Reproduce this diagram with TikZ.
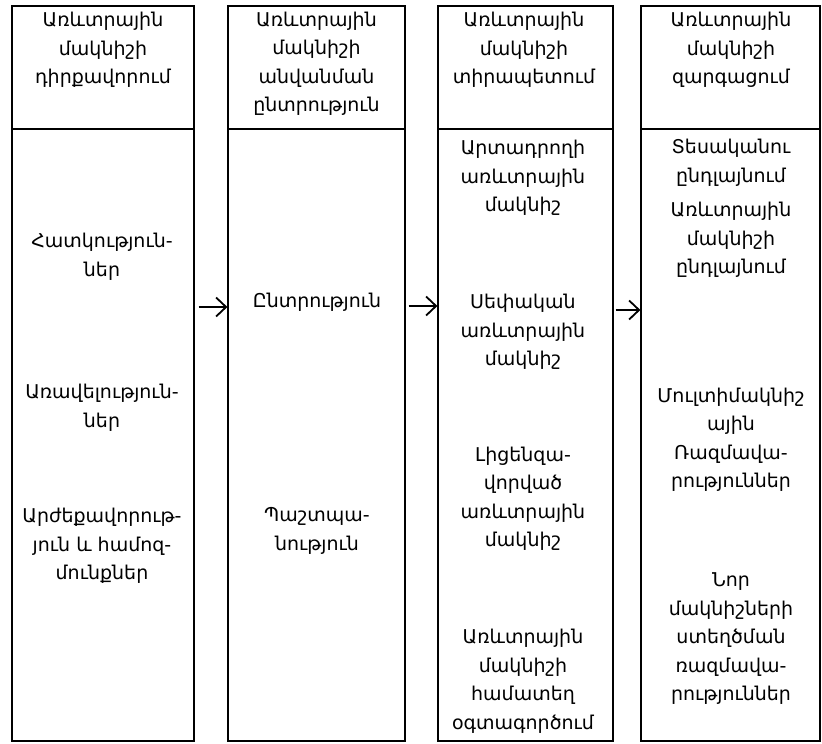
\documentclass[tikz,border=0pt]{standalone}
\usepackage{fontspec}
\newfontfamily\armfont{DejaVu Sans}
\usetikzlibrary{arrows.meta}

\tikzset{
    col/.style={draw, line width=1.2pt, minimum width=#1, minimum height=735pt, inner sep=0pt},
    txt/.style={align=center, inner sep=0pt, font=\armfont\fontsize{19}{28.5}\selectfont},
    arr/.style={line width=1.8pt, -{Straight Barb[length=10pt, width=19pt, line width=1.8pt]}},
}

\begin{document}
\begin{tikzpicture}[x=1pt, y=-1pt]

    \useasboundingbox (0,0) rectangle (822,744);

    \coordinate (h) at (0,129);
    \coordinate (a1) at (0,307);
    \coordinate (a2) at (0,306);
    \coordinate (a3) at (0,310);

    % the four stages
    \node[col=182pt] (c1) at (103,373.5) {};
    \node[col=177pt] (c2) at (316.5,373.5) {};
    \node[col=175pt] (c3) at (525.5,373.5) {};
    \node[col=179pt] (c4) at (730.5,373.5) {};

    \foreach \c in {c1,c2,c3,c4}
        \draw[line width=1.2pt] (\c.west |- h) -- (\c.east |- h);

    \node[txt] (h1) at (103,50) {Առևտրային\\մակնիշի\\դիրքավորում};
    \node[txt] (h2) at (316.5,64) {Առևտրային\\մակնիշի\\անվանման\\ընտրություն};
    \node[txt] (h3) at (524,50) {Առևտրային\\մակնիշի\\տիրապետում};
    \node[txt] (h4) at (731,50) {Առևտրային\\մակնիշի\\զարգացում};

    \node[txt] (p1) at (102,257) {Հատկություն-\\ներ};
    \node[txt] (p2) at (102,408) {Առավելություն-\\ներ};
    \node[txt] (p3) at (102,546) {Արժեքավորութ-\\յուն և համոզ-\\մունքներ};

    \node[txt] (n1) at (317,302) {Ընտրություն};
    \node[txt] (n2) at (317,531) {Պաշտպա-\\նություն};

    \node[txt] (s1) at (523,178) {Արտադրողի\\առևտրային\\մակնիշ};
    \node[txt] (s2) at (523,332) {Սեփական\\առևտրային\\մակնիշ};
    \node[txt] (s3) at (523,499) {Լիցենզա-\\վորված\\առևտրային\\մակնիշ};
    \node[txt] (s4) at (523,681) {Առևտրային\\մակնիշի\\համատեղ\\օգտագործում};

    \node[txt] (d1) at (731,163) {Տեսականու\\ընդլայնում};
    \node[txt] (d2) at (731,240) {Առևտրային\\մակնիշի\\ընդլայնում};
    \node[txt] (d3) at (731,440) {Մուլտիմակնիշ\\ային\\Ռազմավա-\\րություններ};
    \node[txt] (d4) at (731,639) {Նոր\\մակնիշների\\ստեղծման\\ռազմավա-\\րություններ};

    % transitions
    \draw[arr, shorten <=4pt] (c1.east |- a1) -- (c2.west |- a1);
    \draw[arr, shorten <=3pt] (c2.east |- a2) -- (c3.west |- a2);
    \draw[arr, shorten <=2pt] (c3.east |- a3) -- (c4.west |- a3);

\end{tikzpicture}
\end{document}
